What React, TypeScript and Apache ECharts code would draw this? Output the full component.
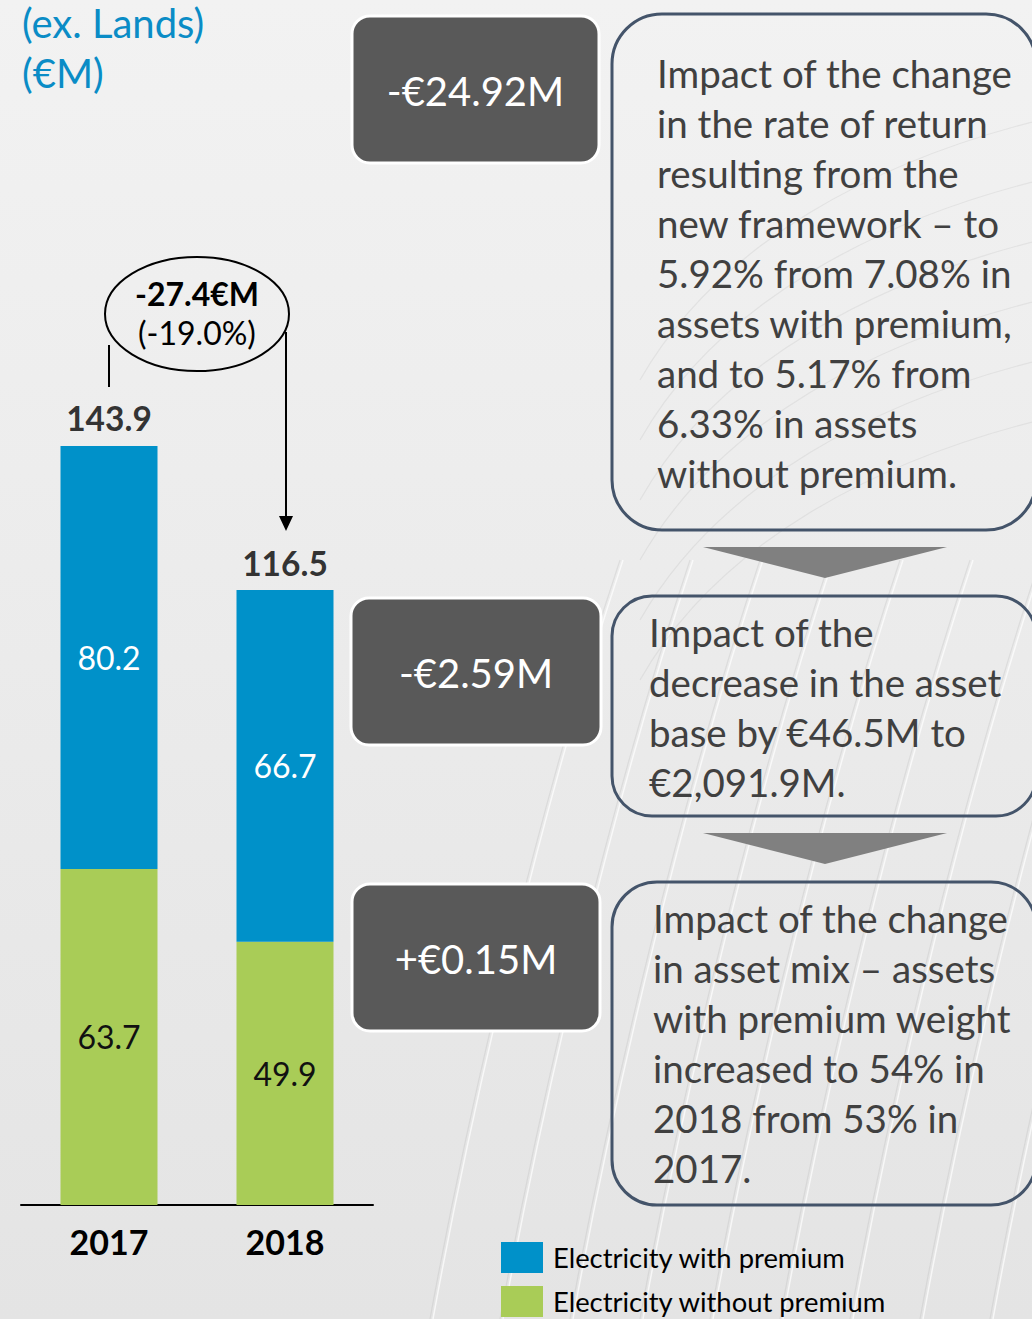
import React, { useEffect, useRef } from "react";
import * as echarts from "echarts";

const categories = ["2017", "2018"];
const seriesNames = ["Electricity with premium", "Electricity without premium"];
const withPremium = [80.2, 66.7];
const withoutPremium = [63.7, 49.9];
const totals = [143.9, 116.5];
const unitTitle = ["(ex. Lands)", "(€M)"];
const changeLabel = ["-27.4€M", "(-19.0%)"];
const impactValues = ["-€24.92M", "-€2.59M", "+€0.15M"];
const impactTexts = [
  [
    "Impact of the change",
    "in the rate of return",
    "resulting from the",
    "new framework – to",
    "5.92% from 7.08% in",
    "assets with premium,",
    "and to 5.17% from",
    "6.33% in assets",
    "without premium.",
  ],
  [
    "Impact of the",
    "decrease in the asset",
    "base by €46.5M to",
    "€2,091.9M.",
  ],
  [
    "Impact of the change",
    "in asset mix – assets",
    "with premium weight",
    "increased to 54% in",
    "2018 from 53% in",
    "2017.",
  ],
];

const FONT = "Lato, 'Open Sans', sans-serif";
const BLUE = "#0091c9";
const GREEN = "#a9cc57";
const DARK_BOX = "#595959";
const OUTLINE = "#44546a";
const TEXT_GRAY = "#404040";

export default function App() {
  const ref = useRef<HTMLDivElement>(null);

  useEffect(() => {
    if (!ref.current) return;
    const chart = echarts.init(ref.current, undefined, { renderer: "svg" });

    const graphics: any[] = [];

    // decorative faint lines
    const decoStarts = [430, 500, 570, 640, 710, 780, 850, 920, 990, 1060];
    decoStarts.forEach((x0) => {
      graphics.push({
        type: "bezierCurve",
        silent: true,
        z: -5,
        shape: {
          x1: x0,
          y1: 1319,
          cpx1: x0 + 40,
          cpy1: 1100,
          cpx2: x0 + 110,
          cpy2: 800,
          x2: x0 + 190,
          y2: 560,
        },
        style: { stroke: "rgba(170,170,170,0.22)", lineWidth: 1.2, fill: "none" },
      });
      graphics.push({
        type: "bezierCurve",
        silent: true,
        z: -5,
        shape: {
          x1: x0 + 3,
          y1: 1319,
          cpx1: x0 + 43,
          cpy1: 1100,
          cpx2: x0 + 113,
          cpy2: 800,
          x2: x0 + 193,
          y2: 560,
        },
        style: { stroke: "rgba(255,255,255,0.7)", lineWidth: 1.5, fill: "none" },
      });
    });
    const arcStarts = [120, 180, 240, 300, 360, 420];
    arcStarts.forEach((y0) => {
      graphics.push({
        type: "bezierCurve",
        silent: true,
        z: -5,
        shape: {
          x1: 640,
          y1: y0 + 260,
          cpx1: 720,
          cpy1: y0 + 120,
          cpx2: 880,
          cpy2: y0 + 40,
          x2: 1040,
          y2: y0,
        },
        style: { stroke: "rgba(175,175,175,0.2)", lineWidth: 1.2, fill: "none" },
      });
    });

    // unit title
    graphics.push({
      type: "text",
      style: {
        text: unitTitle.join("\n"),
        x: 22,
        y: -2,
        fill: "#0a8cc6",
        fontSize: 40,
        fontFamily: FONT,
        lineHeight: 50,
        textVerticalAlign: "top",
      },
    });

    // change annotation: ellipse + connectors + arrow
    graphics.push({
      type: "ellipse",
      shape: { cx: 197, cy: 314, rx: 92, ry: 57 },
      style: { stroke: "#000", lineWidth: 2, fill: "none" },
    });
    graphics.push({
      type: "text",
      style: {
        text: changeLabel[0],
        x: 197,
        y: 293,
        align: "center",
        verticalAlign: "middle",
        fontSize: 32,
        fontWeight: "bold",
        fontFamily: FONT,
        fill: "#000",
      },
    });
    graphics.push({
      type: "text",
      style: {
        text: changeLabel[1],
        x: 197,
        y: 332,
        align: "center",
        verticalAlign: "middle",
        fontSize: 32,
        fontFamily: FONT,
        fill: "#000",
      },
    });
    graphics.push({
      type: "line",
      shape: { x1: 109, y1: 345, x2: 109, y2: 387 },
      style: { stroke: "#000", lineWidth: 2 },
    });
    graphics.push({
      type: "line",
      shape: { x1: 286, y1: 332, x2: 286, y2: 518 },
      style: { stroke: "#000", lineWidth: 2 },
    });
    graphics.push({
      type: "polygon",
      shape: { points: [[279, 516], [293, 516], [286, 531]] },
      style: { fill: "#000" },
    });

    // impact boxes
    const darkBoxes = [
      { x: 352, y: 16, w: 247, h: 147 },
      { x: 351, y: 598, w: 250, h: 147 },
      { x: 352, y: 884, w: 248, h: 147 },
    ];
    darkBoxes.forEach((b, i) => {
      graphics.push({
        type: "rect",
        shape: { x: b.x, y: b.y, width: b.w, height: b.h, r: 18 },
        style: { fill: DARK_BOX, stroke: "#ffffff", lineWidth: 3 },
      });
      graphics.push({
        type: "text",
        style: {
          text: impactValues[i],
          x: b.x + b.w / 2,
          y: b.y + b.h / 2 + 1,
          align: "center",
          verticalAlign: "middle",
          fontSize: 40,
          fontFamily: FONT,
          fill: "#ffffff",
        },
      });
    });

    const outlineBoxes = [
      { x: 612, y: 14, w: 424, h: 516, r: 50, tx: 657, ty: 48 },
      { x: 612, y: 596, w: 424, h: 220, r: 40, tx: 649, ty: 607 },
      { x: 612, y: 882, w: 424, h: 323, r: 45, tx: 653, ty: 893 },
    ];
    outlineBoxes.forEach((b, i) => {
      graphics.push({
        type: "rect",
        shape: { x: b.x, y: b.y, width: b.w, height: b.h, r: b.r },
        style: { fill: "none", stroke: OUTLINE, lineWidth: 3 },
      });
      graphics.push({
        type: "text",
        style: {
          text: impactTexts[i].join("\n"),
          x: b.tx,
          y: b.ty,
          verticalAlign: "top",
          lineHeight: 50,
          fontSize: 38.5,
          fontFamily: FONT,
          fill: TEXT_GRAY,
        },
      });
    });

    // arrows between boxes
    [547, 833].forEach((y) => {
      graphics.push({
        type: "polygon",
        shape: { points: [[703, y], [947, y], [825, y + 31]] },
        style: { fill: "#808080" },
      });
    });

    const legendBase = {
      orient: "horizontal",
      left: 501,
      itemWidth: 42,
      itemHeight: 31,
      icon: "rect",
      padding: 0,
      textStyle: {
        fontSize: 27.4,
        color: "#000",
        fontFamily: FONT,
        padding: [0, 0, 0, 5],
      },
    };

    chart.setOption({
      animation: false,
      grid: { left: 21, width: 352, top: 150, bottom: 114, containLabel: false },
      legend: [
        { ...legendBase, data: [seriesNames[0]], top: 1242 },
        { ...legendBase, data: [seriesNames[1]], top: 1286 },
      ],
      xAxis: {
        type: "category",
        data: categories,
        axisLine: { lineStyle: { color: "#000", width: 2 } },
        axisTick: { show: false },
        axisLabel: {
          fontSize: 34,
          fontWeight: "bold",
          color: "#000",
          fontFamily: FONT,
          margin: 19,
        },
      },
      yAxis: {
        type: "value",
        min: 0,
        max: 200,
        show: false,
        splitLine: { show: false },
      },
      series: [
        {
          name: seriesNames[1],
          type: "bar",
          stack: "total",
          data: withoutPremium,
          barWidth: 97,
          itemStyle: { color: GREEN },
          label: {
            show: true,
            position: "inside",
            color: "#111",
            fontSize: 32,
            fontFamily: FONT,
          },
        },
        {
          name: seriesNames[0],
          type: "bar",
          stack: "total",
          data: withPremium,
          barWidth: 97,
          itemStyle: { color: BLUE },
          label: {
            show: true,
            position: "inside",
            color: "#fff",
            fontSize: 32,
            fontFamily: FONT,
          },
        },
        {
          name: "Total",
          type: "scatter",
          data: totals,
          symbolSize: 1,
          itemStyle: { color: "rgba(0,0,0,0)" },
          label: {
            show: true,
            position: "top",
            distance: 10,
            color: "#000",
            fontSize: 33.5,
            fontWeight: "bold",
            fontFamily: FONT,
            formatter: "{c}",
          },
          z: 5,
        },
      ],
      graphic: { elements: graphics },
    });

    return () => chart.dispose();
  }, []);

  return (
    <div
      ref={ref}
      style={{
        position: "absolute",
        left: 0,
        top: 0,
        width: 1032,
        height: 1319,
        background: "linear-gradient(180deg, #f2f2f2 0%, #e4e4e4 100%)",
        overflow: "hidden",
      }}
    />
  );
}
